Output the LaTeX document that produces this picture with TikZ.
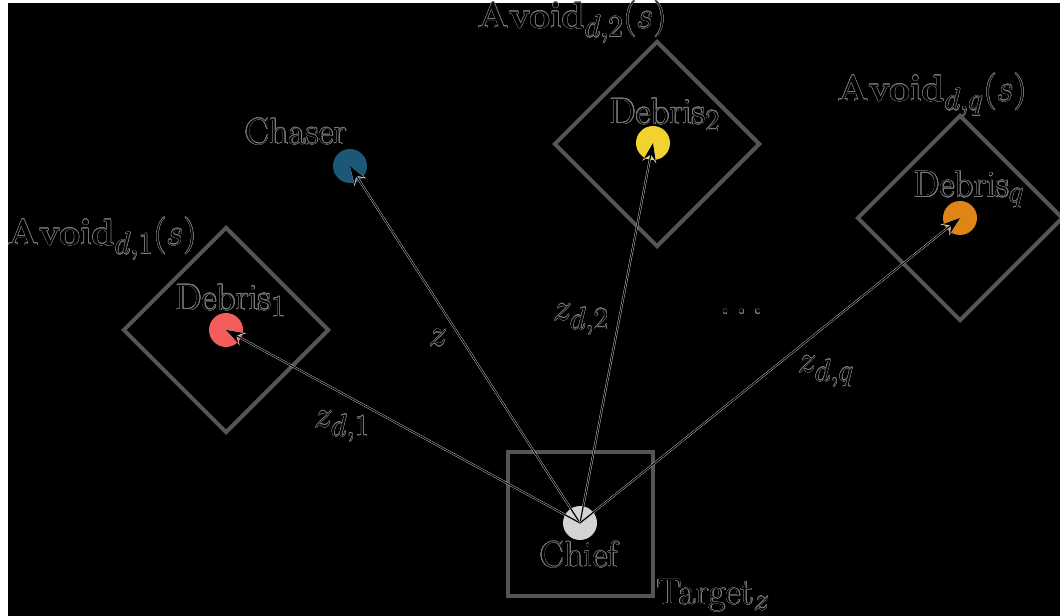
\documentclass[tikz,border=0pt]{standalone}
\usepackage{contour}
\contourlength{0.3pt}
\usetikzlibrary{arrows.meta,shapes.geometric}
\definecolor{zonegray}{HTML}{555555}
\definecolor{halogray}{HTML}{7A7A7A}
\definecolor{chiefc}{HTML}{D3D3D3}
\definecolor{chaserc}{HTML}{1B5878}
\definecolor{debone}{HTML}{F45B5B}
\definecolor{debtwo}{HTML}{F2D22F}
\definecolor{debq}{HTML}{DE8516}
\newcommand{\hl}[1]{\scalebox{1.11}{\contour{halogray}{#1}}}
\begin{document}
\begin{tikzpicture}[x=0.75pt,y=-0.75pt,
  lbl/.style={font=\fontsize{24.88}{30}\selectfont, text=black, inner sep=0pt},
  zonebox/.style={draw=zonegray, line width=3pt, inner sep=0pt, fill=none},
  ball/.style={circle, minimum size=25.5pt, inner sep=0pt},
  halo/.style={white!85!black, line width=1.5pt, -{Stealth[length=14.5pt,width=10.5pt]}},
  vec/.style={black, line width=0.9pt, -{Stealth[length=13pt,width=9pt]}}
]
\useasboundingbox (0,0) rectangle (1060,616);
\fill[white] (0,0) rectangle (1060,616);
\fill[black] (8,3) rectangle (1060,616);

% zones
\node[zonebox, rectangle, minimum width=108.75pt, minimum height=108pt] (target) at (580.5,524) {};
\node[zonebox, diamond, minimum width=154.5pt, minimum height=154.5pt] (zone1) at (226,330) {};
\node[zonebox, diamond, minimum width=154.5pt, minimum height=154.5pt] (zone2) at (657,144) {};
\node[zonebox, diamond, minimum width=154.5pt, minimum height=154.5pt] (zoneq) at (960,218) {};

% bodies
\node[ball, fill=chiefc] (chief) at (580,523) {};
\node[ball, fill=chaserc] (chaser) at (350,166) {};
\node[ball, fill=debone] (deb1) at (226,330) {};
\node[ball, fill=debtwo] (deb2) at (653,143) {};
\node[ball, fill=debq] (debq) at (960,218) {};

% vectors
\foreach \t in {chaser,deb1,deb2,debq}{
  \draw[halo] (chief.center) -- (\t.center);
  \draw[vec] (chief.center) -- (\t.center);
}

% labels
\node[lbl] (lchief) at (579,555) {\hl{Chief}};
\node[lbl, anchor=west] (ltarget) at (657,596) {\hl{Target$_z$}};
\node[lbl] (lchaser) at (296,132) {\hl{Chaser}};
\node[lbl] (ldeb1) at (231,301) {\hl{Debris$_1$}};
\node[lbl] (ldeb2) at (665,115) {\hl{Debris$_2$}};
\node[lbl] (ldebq) at (969,190) {\hl{Debris$_q$}};
\node[lbl] (lav1) at (102,239) {\hl{$\mathbf{Avoid}_{d,1}(s)$}};
\node[lbl] (lav2) at (572,22) {\hl{$\mathbf{Avoid}_{d,2}(s)$}};
\node[lbl] (lavq) at (932,95) {\hl{$\mathbf{Avoid}_{d,q}(s)$}};
\node[lbl] (lz) at (438,338) {\hl{$z$}};
\node[lbl] (lz1) at (342,427) {\hl{$z_{d,1}$}};
\node[lbl] (lz2) at (581,320) {\hl{$z_{d,2}$}};
\node[lbl] (lzq) at (826,372) {\hl{$z_{d,q}$}};
\node[lbl] (ldots) at (742,313) {\hl{$\cdots$}};
\end{tikzpicture}
\end{document}
